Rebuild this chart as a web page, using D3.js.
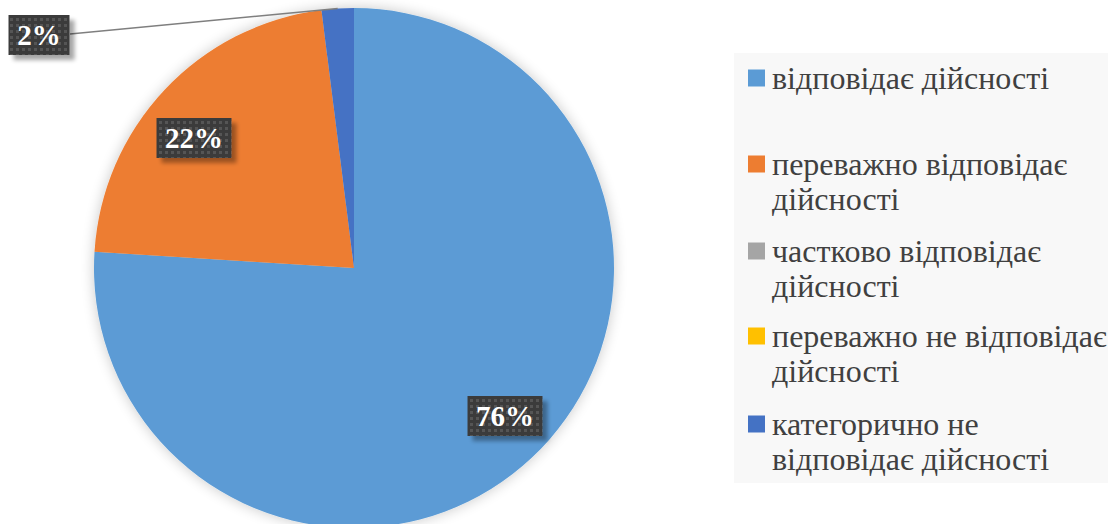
<!DOCTYPE html>
<html>
<head>
<meta charset="utf-8">
<script src="https://cdn.jsdelivr.net/npm/d3@7"></script>
</head>
<body style="margin:0">
<svg id="chart" width="1108" height="524"></svg>
<script>
// survey answers, share of respondents
const categories = [
  "відповідає дійсності",
  "переважно відповідає дійсності",
  "частково відповідає дійсності",
  "переважно не відповідає дійсності",
  "категорично не відповідає дійсності",
];
const values = [76, 22, 0, 0, 2];
const colors = ["#5b9bd5", "#ed7d31", "#a5a5a5", "#ffc000", "#4472c4"];
// legend lines (wrapped like the original)
const legendLines = [
  ["відповідає дійсності"],
  ["переважно відповідає", "дійсності"],
  ["частково відповідає", "дійсності"],
  ["переважно не відповідає", "дійсності"],
  ["категорично не", "відповідає дійсності"],
];

const FONT = "Liberation Serif";

const width = 1108,
  height = 524;
const cx = 354,
  cy = 268,
  radius = 260;

const svg = d3.select("#chart");

const defs = svg.append("defs");

// soft shadow round the pie
const pieShadow = defs
  .append("filter")
  .attr("id", "pieShadow")
  .attr("x", "-10%")
  .attr("y", "-10%")
  .attr("width", "120%")
  .attr("height", "120%");
pieShadow.append("feGaussianBlur").attr("in", "SourceAlpha").attr("stdDeviation", 7);
pieShadow.append("feComponentTransfer").append("feFuncA").attr("type", "linear").attr("slope", 0.22);
const pm = pieShadow.append("feMerge");
pm.append("feMergeNode");
pm.append("feMergeNode").attr("in", "SourceGraphic");

// label box shadow
const boxShadow = defs
  .append("filter")
  .attr("id", "boxShadow")
  .attr("x", "-20%")
  .attr("y", "-20%")
  .attr("width", "150%")
  .attr("height", "160%");
boxShadow.append("feGaussianBlur").attr("in", "SourceAlpha").attr("stdDeviation", 2);
boxShadow.append("feOffset").attr("dx", 5).attr("dy", 5).attr("result", "off");
boxShadow.append("feComponentTransfer").append("feFuncA").attr("type", "linear").attr("slope", 0.35);
const bm = boxShadow.append("feMerge");
bm.append("feMergeNode");
bm.append("feMergeNode").attr("in", "SourceGraphic");

// dotted dark fill of the data labels
const pat = defs
  .append("pattern")
  .attr("id", "dots")
  .attr("patternUnits", "userSpaceOnUse")
  .attr("width", 6)
  .attr("height", 6);
pat.append("rect").attr("width", 6).attr("height", 6).attr("fill", "#3b3b3b");
pat.append("rect").attr("x", 1).attr("y", 1).attr("width", 3).attr("height", 3).attr("fill", "#555555");

// legend panel
svg
  .append("rect")
  .attr("x", 734)
  .attr("y", 53)
  .attr("width", width - 734 + 10)
  .attr("height", 430)
  .attr("fill", "#f8f8f8");

const pie = d3.pie().sort(null).value((d) => d)(values);
const arc = d3.arc().innerRadius(0).outerRadius(radius);

const pieG = svg
  .append("g")
  .attr("transform", `translate(${cx},${cy})`)
  .attr("filter", "url(#pieShadow)");

pieG
  .selectAll("path")
  .data(pie)
  .join("path")
  .attr("d", arc)
  .attr("fill", (d, i) => colors[i]);

// data label positions (relative to centre), only for non-zero slices
const labelPos = [
  [151, 148],
  [-160, -130],
  null,
  null,
  [-315, -233],
];

const labels = svg.append("g").attr("transform", `translate(${cx},${cy})`);

// leader line for the small slice
const small = pie[4];
const midA = (small.startAngle + small.endAngle) / 2;
const edge = [Math.sin(midA) * radius, -Math.cos(midA) * radius];
labels
  .append("path")
  .attr("d", `M${labelPos[4][0] + 31},${labelPos[4][1] - 1}L${edge[0]},${edge[1]}`)
  .attr("stroke", "#7f7f7f")
  .attr("stroke-width", 1.5)
  .attr("fill", "none");

pie.forEach((d, i) => {
  if (!labelPos[i]) return;
  const [lx, ly] = labelPos[i];
  const txt = Math.round(d.value) + "%";
  const w = txt.length === 2 ? 61 : 75;
  const h = 40;
  const g = labels.append("g").attr("transform", `translate(${lx},${ly})`);
  g.append("rect")
    .attr("x", -w / 2)
    .attr("y", -h / 2)
    .attr("width", w)
    .attr("height", h)
    .attr("fill", "url(#dots)")
    .attr("filter", "url(#boxShadow)");
  g.append("text")
    .attr("x", 0)
    .attr("y", 10)
    .attr("text-anchor", "middle")
    .attr("fill", "#fff")
    .style("font-family", `"${FONT}"`)
    .style("font-weight", "bold")
    .style("font-size", "29px")
    .text(txt);
});

// legend
const legendY = [78, 164, 251, 336, 424];
const lineH = 35;
const legend = svg.append("g");
const keys = legend.selectAll("g").data(categories).join("g");
keys
  .append("rect")
  .attr("x", 748)
  .attr("y", (d, i) => legendY[i] - 8.5)
  .attr("width", 17)
  .attr("height", 17)
  .attr("fill", (d, i) => colors[i]);
keys.each(function (d, i) {
  legendLines[i].forEach((line, j) => {
    d3.select(this)
      .append("text")
      .attr("x", 772)
      .attr("y", legendY[i] + 11 + j * lineH)
      .attr("fill", "#404040")
      .style("font-family", `"${FONT}"`)
      .style("font-size", "32px")
      .text(line);
  });
});
</script>
</body>
</html>
